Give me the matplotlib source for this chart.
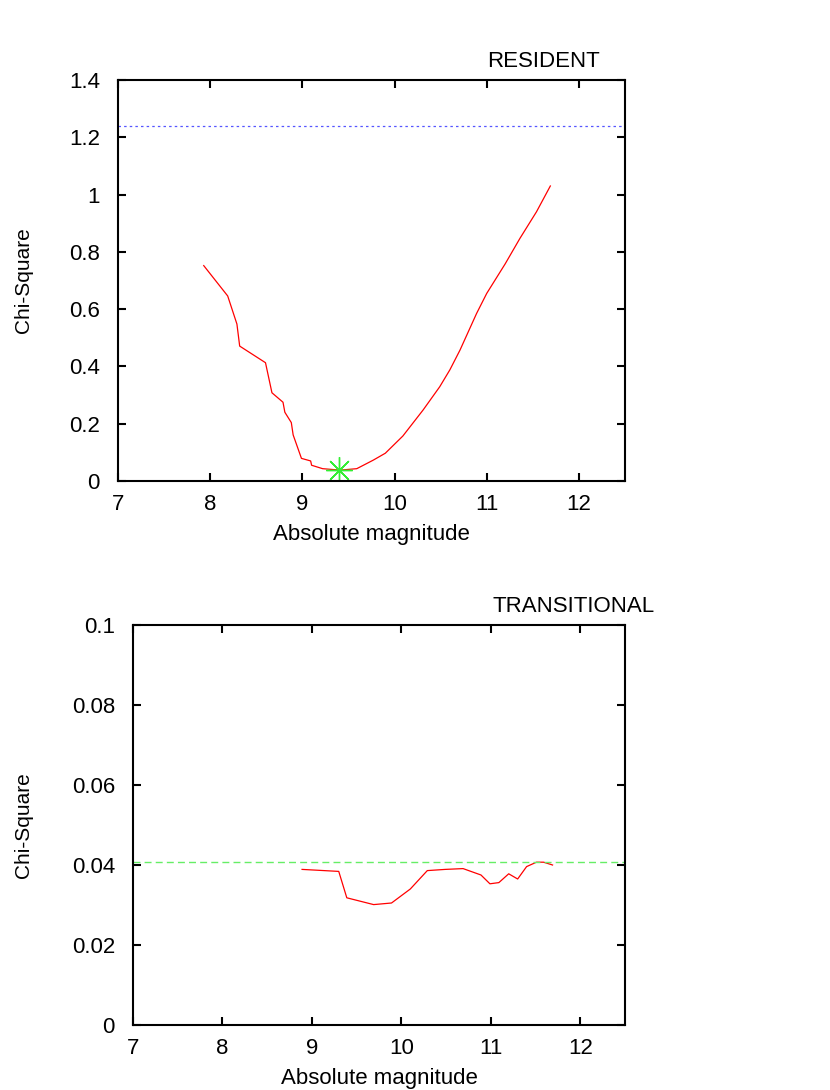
import matplotlib
matplotlib.use('Agg')
import matplotlib.pyplot as plt
from matplotlib.ticker import FuncFormatter
import numpy as np

matplotlib.rcParams.update({
    'font.family': 'Liberation Sans',
    'font.size': 16,
})

# RESIDENT panel
res_mag = [7.93, 8.19, 8.29, 8.32, 8.60, 8.67, 8.79, 8.81, 8.88, 8.90, 8.99,
           9.09, 9.10, 9.22, 9.41, 9.59, 9.77, 9.90, 10.09, 10.31, 10.49,
           10.60, 10.71, 10.89, 11.00, 11.20, 11.36, 11.54, 11.69]
res_chi = [0.752, 0.646, 0.548, 0.471, 0.413, 0.308, 0.275, 0.240, 0.204,
           0.161, 0.079, 0.070, 0.055, 0.043, 0.038, 0.043, 0.073, 0.097,
           0.157, 0.248, 0.329, 0.388, 0.457, 0.585, 0.655, 0.758, 0.847,
           0.940, 1.030]
res_best = (9.40, 0.038)
res_level = 1.24

# TRANSITIONAL panel
tra_mag = [8.89, 9.30, 9.39, 9.69, 9.89, 10.10, 10.29, 10.49, 10.69, 10.89,
           10.99, 11.09, 11.20, 11.30, 11.40, 11.51, 11.59, 11.69]
tra_chi = [0.0389, 0.0384, 0.0318, 0.0301, 0.0305, 0.0340, 0.0386, 0.0389,
           0.0391, 0.0375, 0.0353, 0.0356, 0.0378, 0.0365, 0.0396, 0.0407,
           0.0407, 0.0400]
tra_level = 0.0408

W, H = 830, 1090
fig = plt.figure(figsize=(W / 100, H / 100), dpi=100)

def px_axes(l, t, r, b):
    return fig.add_axes([l / W, 1 - b / H, (r - l) / W, (b - t) / H])

def style(ax, ymax, ystep):
    ax.set_xlim(7, 12.5)
    ax.set_ylim(0, ymax)
    ax.set_xticks(np.arange(7, 12.5, 1))
    ax.set_yticks(np.arange(0, ymax + ystep / 2, ystep))
    ax.yaxis.set_major_formatter(FuncFormatter(lambda v, p: '%g' % round(v, 4)))
    ax.xaxis.set_major_formatter(FuncFormatter(lambda v, p: '%g' % v))
    ax.tick_params(direction='in', length=6, width=1.5, top=True, right=True,
                   labelsize=16, pad=9)
    ax.tick_params(axis='y', pad=13)
    for s in ax.spines.values():
        s.set_linewidth(1.5)
    ax.set_xlabel('Absolute magnitude', fontsize=16, labelpad=7)
    ax.set_ylabel('Chi-Square', fontsize=15)

ax1 = px_axes(118, 80, 625, 481)
ax1.plot(res_mag, res_chi, color='red', lw=0.9)
ax1.axhline(res_level, color='#5555ff', lw=0.9, ls=(0, (2, 2.5)))
ax1.plot([res_best[0]], [res_best[1]], marker=(8, 2, 0), ms=19, mew=1.0,
         color='#33ee33', ls='none')
style(ax1, 1.4, 0.2)
ax1.yaxis.set_label_coords(-0.168, 0.5)
fig.text(600 / W, 1 - 67 / H, 'RESIDENT', ha='right', va='baseline', fontsize=16)

ax2 = px_axes(133, 625, 625, 1025)
ax2.plot(tra_mag, tra_chi, color='red', lw=0.9)
ax2.axhline(tra_level, color='#66ee66', lw=1.0, ls=(0, (5, 3)))
style(ax2, 0.1, 0.02)
ax2.yaxis.set_label_coords(-0.203, 0.5)
fig.text(655 / W, 1 - 612 / H, 'TRANSITIONAL', ha='right', va='baseline', fontsize=16)

plt.savefig('out.png', dpi=100)
